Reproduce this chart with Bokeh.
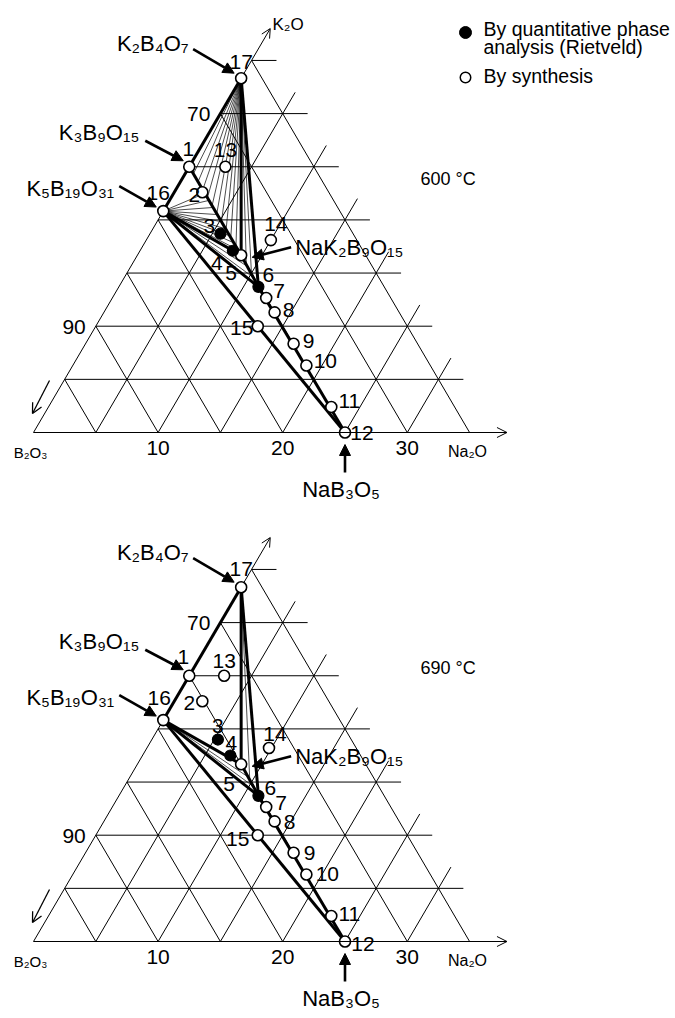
import math
from bokeh.plotting import figure
from bokeh.layouts import column
from bokeh.models import Range1d, Arrow, NormalHead, OpenHead
from bokeh.core.properties import value
from bokeh.embed import file_html
from bokeh.resources import INLINE

# ---------------- data (mol %) ----------------
point_ids = ["1", "2", "3", "4", "5", "6", "7", "8", "9", "10",
             "11", "12", "13", "14", "15", "16", "17"]
na2o_600 = [0.0, 2.25, 5.65, 7.45, 8.33, 11.2, 12.35, 13.7, 16.7, 18.75,
            22.7, 25.0, 2.9, 10.0, 13.0, 0.0, 0.0]
k2o_600 = [25.0, 22.6, 18.7, 17.1, 16.67, 13.7, 12.65, 11.3, 8.35, 6.3,
           2.4, 0.0, 25.0, 18.1, 10.0, 20.83, 33.33]
na2o_690 = [0.0, 2.25, 5.3, 7.05, 8.33, 11.2, 12.35, 13.7, 16.7, 18.75,
            22.7, 25.0, 2.8, 9.8, 13.0, 0.0, 0.0]
k2o_690 = [25.0, 22.6, 19.0, 17.5, 16.67, 13.7, 12.65, 11.3, 8.35, 6.3,
           2.4, 0.0, 25.0, 18.2, 10.0, 20.83, 33.33]
rietveld_ids = ["3", "4", "6"]

compound_names = ["K₂B₄O₇", "K₃B₉O₁₅", "K₅B₁₉O₃₁", "NaK₂B₉O₁₅", "NaB₃O₅"]
compound_ids = ["17", "1", "16", "5", "12"]

grid_pct = [5, 10, 15, 20, 25, 30, 35]
na2o_ticks = [10, 20, 30]
b2o3_ticks = [90, 70]
temperatures = ["600 °C", "690 °C"]
legend_texts = ["By quantitative phase", "analysis (Rietveld)", "By synthesis"]
axis_names = ["K₂O", "B₂O₃", "Na₂O"]

thick_600 = [("17", "1"), ("1", "16"), ("17", "5"), ("17", "6"), ("1", "5"),
             ("16", "5"), ("16", "6"), ("5", "6"), ("16", "12"), ("6", "12")]
thick_690 = [("17", "1"), ("1", "16"), ("17", "5"), ("17", "6"),
             ("16", "5"), ("16", "6"), ("5", "6"), ("16", "12"), ("6", "12")]
fans_600 = [("17", "1", "5", [0.08, 0.17, 0.26, 0.35, 0.44, 0.53, 0.62, 0.71, 0.8, 0.9]),
            ("17", "5", "6", [0.3, 0.6]),
            ("16", "1", "5", [0.3, 0.38, 0.46, 0.54, 0.62, 0.7, 0.78, 0.86, 0.94]),
            ("16", "5", "6", [0.35, 0.7])]
fans_690 = [("17", "5", "6", [0.5]),
            ("16", "5", "6", [0.4, 0.7])]

# ---------------- layout / style ----------------
FONT = value("Liberation Sans")
SQ3 = math.sqrt(3) / 2
SX = 12.46            # px per Na2O %
SY = 10.63 / SQ3      # px per cartesian unit (K2O * sqrt3/2)
W = 675
H = 509
X0 = 33               # frame x of B2O3 corner
BASE = 432            # frame y of the Na2O base line


def tern(na, k):
    return na + k / 2.0, k * SQ3


def shift(xy, dx, dy):
    return xy[0] + dx / SX, xy[1] - dy / SY


def mid(xy, dx, dy_base, fs):
    # anchor for text_baseline="middle" given a baseline offset
    return shift(xy, dx, dy_base - 0.36 * fs)


num_off_600 = {"1": (-1, -18), "2": (-8, 3), "3": (-11, -8), "4": (-16, 12),
               "5": (-10, 18), "6": (10, -12), "7": (13, -7), "8": (14, -2),
               "9": (15, -3), "10": (19, -5), "11": (18, -6), "12": (17, 0),
               "13": (0, -17), "14": (5, -16), "15": (-16, 2), "16": (-5, -18),
               "17": (0, -16)}
num_off_690 = {"1": (-6, -19), "2": (-13, 2), "3": (0, -14), "4": (1, -12),
               "5": (-12, 20), "6": (12, -8), "7": (15, -4), "8": (15, 1),
               "9": (16, 0), "10": (21, -1), "11": (18, -2), "12": (18, 2),
               "13": (0, -15), "14": (6, -14), "15": (-20, 4), "16": (-4, -22),
               "17": (0, -18)}

comp_text = {"17": ("right", -52.7, -27), "1": ("right", -50, -26),
             "16": ("right", -49, -15), "5": ("left", 54, 0),
             "12": ("center", -4, 65)}
comp_arrow = {"17": (-48, -29, -7, -5), "1": (-44, -26, -6, -6),
              "16": (-44, -25, -7, -4), "5": (50, -8, 11, 2),
              "12": (0, 40, 0, 12)}


def make_panel(na, k, thick, fans, num_off, temp, temp_off, first):
    p = figure(width=W, height=H,
               x_range=Range1d(-X0 / SX, (W - X0) / SX),
               y_range=Range1d(-(H - BASE) / SY, BASE / SY),
               output_backend="svg", toolbar_location=None, min_border=0,
               x_axis_location=None, y_axis_location=None,
               outline_line_color=None, background_fill_color="white",
               border_fill_color="white")
    p.xgrid.grid_line_color = None
    p.ygrid.grid_line_color = None

    pts = {pid: tern(a, b) for pid, a, b in zip(point_ids, na, k)}
    corner = tern(0, 0)
    gmax = max(grid_pct)
    ext = 2.0

    # ternary grid
    xs, ys = [], []
    for g in grid_pct:
        a, b = tern(0, g), tern(gmax - g + ext, g)
        xs.append([a[0], b[0]]); ys.append([a[1], b[1]])
        a, b = tern(0, g), tern(g, 0)
        xs.append([a[0], b[0]]); ys.append([a[1], b[1]])
        if g < gmax:
            a, b = tern(g, 0), tern(g, gmax - g + ext)
            xs.append([a[0], b[0]]); ys.append([a[1], b[1]])
    a, b = tern(0, 0), tern(0, gmax)
    xs.append([a[0], b[0]]); ys.append([a[1], b[1]])
    p.multi_line(xs, ys, line_color="black", line_width=1)

    # axis arrows
    end = tern(38, 0)
    p.add_layout(Arrow(end=OpenHead(size=10, line_width=1, line_color="black"),
                       x_start=corner[0], y_start=corner[1], x_end=end[0], y_end=end[1],
                       line_width=1, line_color="black"))
    s, e = tern(0, gmax), tern(0, 38)
    p.add_layout(Arrow(end=OpenHead(size=9, line_width=1, line_color="black"),
                       x_start=s[0], y_start=s[1], x_end=e[0], y_end=e[1],
                       line_width=1, line_color="black"))
    s, e = shift(corner, 16, -52), shift(corner, -1, -19)
    p.add_layout(Arrow(end=OpenHead(size=10, line_width=1.3, line_color="black"),
                       x_start=s[0], y_start=s[1], x_end=e[0], y_end=e[1],
                       line_width=1.3, line_color="black"))

    # tie-line fans
    fx, fy = [], []
    for apex, a, b, fr in fans:
        A, B, C = pts[apex], pts[a], pts[b]
        for f in fr:
            ex, ey = B[0] + f * (C[0] - B[0]), B[1] + f * (C[1] - B[1])
            fx.append([A[0], ex]); fy.append([A[1], ey])
    p.multi_line(fx, fy, line_color="black", line_width=0.7)

    # phase boundary lines
    tx = [[pts[a][0], pts[b][0]] for a, b in thick]
    ty = [[pts[a][1], pts[b][1]] for a, b in thick]
    p.multi_line(tx, ty, line_color="black", line_width=3)

    # points
    ox = [pts[i][0] for i in point_ids if i not in rietveld_ids]
    oy = [pts[i][1] for i in point_ids if i not in rietveld_ids]
    fxp = [pts[i][0] for i in rietveld_ids]
    fyp = [pts[i][1] for i in rietveld_ids]
    p.scatter(ox, oy, size=11, marker="circle", fill_color="white",
              line_color="black", line_width=1.6)
    p.scatter(fxp, fyp, size=11, marker="circle", fill_color="black",
              line_color="black", line_width=1.2)

    # point numbers (offsets give the visual centre of the digits)
    lx, ly = [], []
    for pid in point_ids:
        dx, dy = num_off[pid]
        q = shift(pts[pid], dx, dy)
        lx.append(q[0]); ly.append(q[1])
    p.text(lx, ly, text=point_ids, text_align="center", text_baseline="middle",
           text_font=FONT, text_font_size="21px", text_color="black")

    # compound labels and arrows
    for name, pid in zip(compound_names, compound_ids):
        al, dx, dy = comp_text[pid]
        q = mid(pts[pid], dx, dy, 22)
        p.text([q[0]], [q[1]], text=[name], text_align=al, text_baseline="middle",
               text_font=FONT, text_font_size="22px", text_color="black")
        sx0, sy0, sx1, sy1 = comp_arrow[pid]
        s, e = shift(pts[pid], sx0, sy0), shift(pts[pid], sx1, sy1)
        p.add_layout(Arrow(end=NormalHead(size=11, fill_color="black", line_color="black",
                                          line_width=1),
                           x_start=s[0], y_start=s[1], x_end=e[0], y_end=e[1],
                           line_width=2.6, line_color="black"))

    # tick labels
    tx_, ty_ = [], []
    for t in na2o_ticks:
        q = mid(tern(t, 0), 0, 23, 21)
        tx_.append(q[0]); ty_.append(q[1])
    p.text(tx_, ty_, text=[str(t) for t in na2o_ticks], text_align="center",
           text_baseline="middle", text_font=FONT, text_font_size="21px")
    bx, by = [], []
    for t in b2o3_ticks:
        q = mid(tern(0, 100 - t), -10, 8, 21)
        bx.append(q[0]); by.append(q[1])
    p.text(bx, by, text=[str(t) for t in b2o3_ticks], text_align="right",
           text_baseline="middle", text_font=FONT, text_font_size="21px")

    # axis names
    q = mid(corner, -3, 25, 15)
    p.text([q[0]], [q[1]], text=[axis_names[1]], text_align="center",
           text_baseline="middle", text_font=FONT, text_font_size="15px")
    q = mid(corner, 434, 25, 16)
    p.text([q[0]], [q[1]], text=[axis_names[2]], text_align="center",
           text_baseline="middle", text_font=FONT, text_font_size="16px")
    if first:
        q = mid(corner, 239, -402, 17)
        p.text([q[0]], [q[1]], text=[axis_names[0]], text_align="left",
               text_baseline="middle", text_font=FONT, text_font_size="17px")

    # temperature
    q = mid(corner, temp_off[0], temp_off[1], 18)
    p.text([q[0]], [q[1]], text=[temp], text_align="left", text_baseline="middle",
           text_font=FONT, text_font_size="18px")

    # legend
    if first:
        a = shift(corner, 432, -400)
        b = shift(corner, 432, -355)
        p.scatter([a[0]], [a[1]], size=12, marker="circle", fill_color="black",
                  line_color="black")
        p.scatter([b[0]], [b[1]], size=10.5, marker="circle", fill_color="white",
                  line_color="black", line_width=1.5)
        offs = [-396, -378, -349]
        lx2, ly2 = [], []
        for o in offs:
            q = mid(corner, 450, o, 19.5)
            lx2.append(q[0]); ly2.append(q[1])
        p.text(lx2, ly2, text=legend_texts, text_align="left", text_baseline="middle",
               text_font=FONT, text_font_size="19.5px")
    return p


p1 = make_panel(na2o_600, k2o_600, thick_600, fans_600, num_off_600,
                temperatures[0], (387, -247), True)
p2 = make_panel(na2o_690, k2o_690, thick_690, fans_690, num_off_690,
                temperatures[1], (387, -267), False)

layout = column(p1, p2, spacing=0)
open("out.html", "w").write(file_html(layout, INLINE))
